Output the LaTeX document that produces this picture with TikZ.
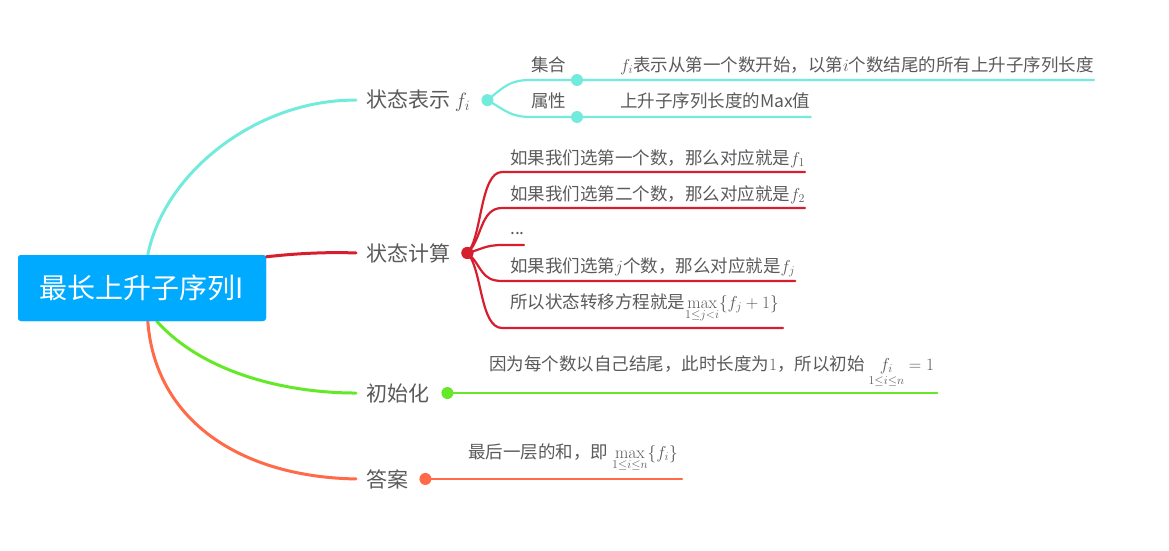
\documentclass[tikz,border=0pt]{standalone}
\usepackage{amsmath}
\usepackage[no-math]{fontspec}
\setmainfont{Noto Sans CJK SC}
\definecolor{rootblue}{RGB}{0,170,255}
\definecolor{tealbr}{RGB}{115,235,220}
\definecolor{redbr}{RGB}{214,30,46}
\definecolor{greenbr}{RGB}{100,232,40}
\definecolor{orangebr}{RGB}{255,106,72}
\definecolor{txtgray}{RGB}{90,90,90}

\begin{document}
\begin{tikzpicture}[line cap=round,line join=round,x=1pt,y=-1pt,
  rootbox/.style={fill=rootblue,text=white,rounded corners=3pt,minimum width=248pt,minimum height=66pt,inner sep=0pt,font=\fontsize{28}{32}\selectfont},
  topic/.style={text=txtgray,inner sep=0pt,anchor=base west,font=\fontsize{21}{25}\selectfont},
  leaf/.style={text=txtgray,inner sep=0pt,anchor=base west,font=\fontsize{17.5}{21}\selectfont},
  blob/.style={circle,fill=#1,inner sep=0pt,minimum size=12pt},
  mainbr/.style={draw=#1,line width=3pt},
  subbr/.style={draw=#1,line width=2.2pt}]
\useasboundingbox (0,0) rectangle (1169,551);
\node[rootbox] (root) at (142,288) {最长上升子序列I};
\node[topic] (state) at (366,107) {状态表示 $f_i$};
\node[topic] (calc) at (366,261) {状态计算};
\node[topic] (init) at (366,401) {初始化};
\node[topic] (ans) at (366,487) {答案};
\draw[mainbr=tealbr] ([xshift=130pt]root.north west) .. controls (165,170) and (260,99) .. ([xshift=-10pt]state.west);
\draw[mainbr=redbr] ([yshift=-2pt]root.north east) .. controls (300,253) and (330,252) .. ([xshift=-10pt]calc.west);
\draw[mainbr=greenbr] ([xshift=139pt]root.south west) .. controls (200,370) and (280,393) .. ([xshift=-10pt]init.west);
\draw[mainbr=orangebr] ([xshift=130pt]root.south west) .. controls (155,420) and (240,477) .. ([xshift=-10pt]ans.west);
\node[rootbox] at (root) {最长上升子序列I};
\node[blob=tealbr] (statedot) at ([xshift=17pt]state.east) {};
\node[blob=redbr] (calcdot) at ([xshift=17pt]calc.east) {};
\node[blob=greenbr] (initdot) at ([xshift=18pt]init.east) {};
\node[blob=orangebr] (ansdot) at ([xshift=17pt]ans.east) {};
\node[leaf] (set) at (531,71.5) {集合};
\node[leaf] (attr) at (531,107.5) {属性};
\node[leaf] (setdesc) at (620,71) {$f_i$表示从第一个数开始，以第$i$个数结尾的所有上升子序列长度};
\node[leaf] (attrdesc) at (620,107.5) {上升子序列长度的Max值};
\node[blob=tealbr] (setdot) at (577,80) {};
\node[blob=tealbr] (attrdot) at (577,117) {};
\draw[subbr=tealbr] (statedot.center) .. controls (505,86) and (510,80) .. (set.west |- setdot) -- (setdot) -- (setdot -| setdesc.east);
\draw[subbr=tealbr] (statedot.center) .. controls (505,110) and (510,117) .. (attr.west |- attrdot) -- (attrdot) -- (attrdot -| attrdesc.east);
\node[leaf] (pick1) at (510,164) {如果我们选第一个数，那么对应就是$f_1$};
\node[leaf] (pick2) at (510,200) {如果我们选第二个数，那么对应就是$f_2$};
\node[leaf] (dots) at (510,234) {...};
\node[leaf] (pickj) at (510,272) {如果我们选第$j$个数，那么对应就是$f_j$};
\node[leaf] (trans) at (510,308) {所以状态转移方程就是$\max\limits_{1\le j<i}\{f_j+1\}$};
\coordinate (pick1l) at (502,172);
\coordinate (pick2l) at (502,208);
\coordinate (dotsl) at (502,245);
\coordinate (pickjl) at (502,281);
\coordinate (transl) at (502,328);
\draw[subbr=redbr] (calcdot.center) .. controls (482,238) and (480,172) .. (pick1l) -- (pick1l -| pick1.east);
\draw[subbr=redbr] (calcdot.center) .. controls (482,240) and (480,208) .. (pick2l) -- (pick2l -| pick2.east);
\draw[subbr=redbr] (calcdot.center) .. controls (480,250) and (485,245) .. (dotsl) -- ([xshift=-1pt]dotsl -| dots.east);
\draw[subbr=redbr] (calcdot.center) .. controls (482,265) and (480,281) .. (pickjl) -- (pickjl -| pickj.east);
\draw[subbr=redbr] (calcdot.center) .. controls (482,268) and (480,328) .. (transl) -- ([xshift=4pt]transl -| trans.east);
\node[blob=redbr] at (calcdot) {};
\node[leaf] (initdesc) at (489,370) {因为每个数以自己结尾，此时长度为$1$，所以初始 $\mathop{f_i}\limits_{1\le i\le n}=1$};
\draw[subbr=greenbr] (initdot.center) -- ([xshift=3pt]initdot -| initdesc.east);
\node[leaf] (ansdesc) at (468,458) {最后一层的和，即 $\max\limits_{1\le i\le n}\{f_i\}$};
\draw[subbr=orangebr] (ansdot.center) -- ([xshift=4pt]ansdot -| ansdesc.east);
\end{tikzpicture}
\end{document}
